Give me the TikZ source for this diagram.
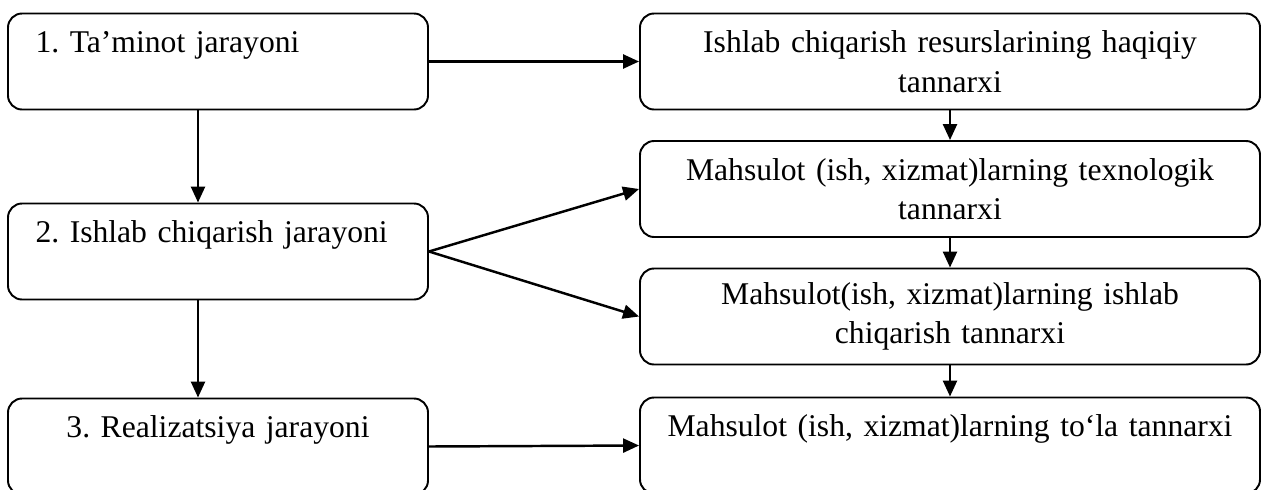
\documentclass[tikz,border=0pt]{standalone}
\usepackage{fontspec}
\setmainfont{Liberation Serif}
\usetikzlibrary{arrows.meta,positioning,calc}
\frenchspacing

\begin{document}
\begin{tikzpicture}[
  box/.style={draw,line width=1.1pt,rounded corners=8pt,minimum height=1.92cm,
              inner sep=0pt,font=\fontsize{18}{22.5}\selectfont},
  lbox/.style={box,minimum width=8.4cm,text width=7.3cm},
  rbox/.style={box,minimum width=12.4cm,text width=12cm,align=center},
  arr/.style={-{Triangle[length=3.2mm,width=2.8mm]},line width=1.4pt}
]
  \useasboundingbox (0,0) rectangle (25.24,-9.78);

  \node[lbox,align=left]   (taminot) at (4.36,-1.23) {1. Ta’minot jarayoni\\~};
  \node[lbox,align=left]   (ishlab)  at (4.36,-5.03) {2. Ishlab chiqarish jarayoni\\~};
  \node[lbox,align=center] (real)    at (4.36,-8.93) {3. Realizatsiya jarayoni\\~};

  \node[rbox] (resurs) at (19,-1.23) {Ishlab chiqarish resurslarining haqiqiy\\tannarxi};
  \node[rbox] (texno)  at (19,-3.78) {Mahsulot (ish, xizmat)larning texnologik\\tannarxi};
  \node[rbox] (ichiq)  at (19,-6.33) {Mahsulot(ish, xizmat)larning ishlab\\chiqarish tannarxi};
  \node[rbox] (tola)   at (19,-8.91) {Mahsulot (ish, xizmat)larning to‘la tannarxi\\~};

  \draw[arr] ([xshift=-4mm]taminot.south) -- ([xshift=-4mm]ishlab.north);
  \draw[arr] ([xshift=-4mm]ishlab.south)  -- ([xshift=-4mm]real.north);

  \draw[arr] (resurs) -- (texno);
  \draw[arr] (texno)  -- (ichiq);
  \draw[arr] (ichiq)  -- (tola);

  \draw[arr] (taminot.east) -- (resurs.west);
  \draw[arr] (ishlab.east)  -- (texno.west);
  \draw[arr] (ishlab.east)  -- (ichiq.west);
  \draw[arr] (real.east)    -- (tola.west);
\end{tikzpicture}
\end{document}
